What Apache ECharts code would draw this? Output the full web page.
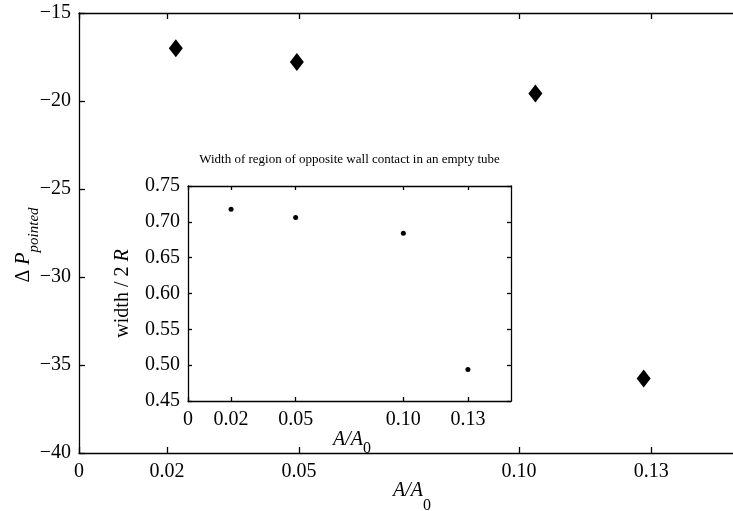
<!DOCTYPE html>
<html>
<head>
<meta charset="utf-8">
<script src="https://cdn.jsdelivr.net/npm/echarts@6/dist/echarts.min.js"></script>
<style>
  html, body { margin: 0; padding: 0; background: #fff; }
  #chart { width: 733px; height: 511px; }
</style>
</head>
<body>
<div id="chart"></div>
<script>
// Pressure drop at the pointed state vs. cross-section ratio
const mainX = [0.022, 0.0495, 0.1037, 0.1283];
const mainY = [-17.0, -17.78, -19.58, -35.77];
const mainXTicks = [0, 0.02, 0.05, 0.10, 0.13];

// Inset: width of opposite-wall contact region in an empty tube
const insetX = [0.02, 0.05, 0.10, 0.13];
const insetY = [0.7175, 0.706, 0.684, 0.494];
const insetXTicks = [0, 0.02, 0.05, 0.10, 0.13];
const insetTitle = 'Width of region of opposite wall contact in an empty tube';

const FONT = 'Liberation Serif';
const BLACK = '#000';

const fmtX = v => (v === 0 ? '0' : v.toFixed(2));
const fmtMinus = v => String(v).replace('-', '\u2212');

const lineStyle = { color: BLACK, width: 1.3 };
const labelStyle = { color: BLACK, fontFamily: FONT, fontSize: 20 };

function xAxisDef(grid, pos, min, max, ticks, tickLen, withLabels, extra) {
  return Object.assign({
    gridIndex: grid, type: 'value', position: pos, min: min, max: max,
    nameMoveOverlap: false,
    axisLine: { show: true, onZero: false, lineStyle: lineStyle },
    axisTick: { show: true, inside: true, length: tickLen, customValues: ticks, lineStyle: lineStyle },
    axisLabel: withLabels
      ? Object.assign({ show: true, margin: 9, customValues: ticks, formatter: fmtX }, labelStyle)
      : { show: false },
    splitLine: { show: false }
  }, extra || {});
}

const subRich = (big, small, drop) => ({
  i: { fontFamily: FONT, fontStyle: 'italic', fontSize: big, color: BLACK, verticalAlign: 'top', lineHeight: big + 2 },
  s: { fontFamily: FONT, fontSize: small, color: BLACK, verticalAlign: 'bottom', lineHeight: big + 2 + drop }
});

const option = {
  animation: false,
  backgroundColor: '#fff',
  grid: [
    { left: 79, top: 13, right: 0, bottom: 58, show: false, containLabel: false, outerBoundsMode: 'none' },
    { left: 188, top: 186, right: 222, bottom: 110, show: true, backgroundColor: '#fff', borderWidth: 0, z: 5,
      containLabel: false, outerBoundsMode: 'none' }
  ],
  xAxis: [
    xAxisDef(0, 'bottom', 0, 0.1486, mainXTicks, 6, true, {
      name: '{i|A/A}{s|0}', nameLocation: 'middle', nameGap: 28,
      nameTextStyle: { padding: [0, 0, 0, 12], rich: subRich(20, 16, 11) }
    }),
    xAxisDef(0, 'top', 0, 0.1486, mainXTicks, 6, false),
    xAxisDef(1, 'bottom', 0, 0.15, insetXTicks, 4, true, {
      z: 6,
      name: '{i|A/A}{s|0}', nameLocation: 'middle', nameGap: 29,
      nameTextStyle: { padding: [0, 0, 0, 5], rich: subRich(20, 16, 5) }
    }),
    xAxisDef(1, 'top', 0, 0.15, insetXTicks, 4, false, { z: 6 })
  ],
  yAxis: [
    {
      gridIndex: 0, type: 'value', position: 'left', min: -40, max: -15, interval: 5,
      nameMoveOverlap: false,
      axisLine: { show: true, onZero: false, lineStyle: lineStyle },
      axisTick: { show: true, inside: true, length: 6, lineStyle: lineStyle },
      axisLabel: Object.assign({ margin: 8, formatter: fmtMinus }, labelStyle),
      splitLine: { show: false },
      name: '{n|\u0394 }{i|P}{s|pointed}', nameLocation: 'middle', nameRotate: 90, nameGap: 37,
      nameTextStyle: {
        padding: [0, 24, 0, 0],
        rich: {
          n: { fontFamily: FONT, fontSize: 20, color: BLACK, verticalAlign: 'top', lineHeight: 22 },
          i: { fontFamily: FONT, fontStyle: 'italic', fontSize: 20, color: BLACK, verticalAlign: 'top', lineHeight: 22 },
          s: { fontFamily: FONT, fontStyle: 'italic', fontSize: 15, color: BLACK, verticalAlign: 'bottom', lineHeight: 28 }
        }
      }
    },
    {
      gridIndex: 1, type: 'value', position: 'left', min: 0.45, max: 0.75, interval: 0.05, z: 6,
      nameMoveOverlap: false,
      axisLine: { show: true, onZero: false, lineStyle: lineStyle },
      axisTick: { show: true, inside: true, length: 4, lineStyle: lineStyle },
      axisLabel: Object.assign({ margin: 8, formatter: v => v.toFixed(2) }, labelStyle),
      splitLine: { show: false },
      name: '{n|width / 2 }{i|R}', nameLocation: 'middle', nameRotate: 90, nameGap: 55,
      nameTextStyle: {
        rich: {
          n: { fontFamily: FONT, fontSize: 20, color: BLACK },
          i: { fontFamily: FONT, fontStyle: 'italic', fontSize: 20, color: BLACK }
        }
      }
    },
    {
      gridIndex: 1, type: 'value', position: 'right', min: 0.45, max: 0.75, interval: 0.05, z: 6,
      axisLine: { show: true, onZero: false, lineStyle: lineStyle },
      axisTick: { show: true, inside: true, length: 4, lineStyle: lineStyle },
      axisLabel: { show: false },
      splitLine: { show: false }
    }
  ],
  graphic: [
    {
      type: 'text', x: 349.5, y: 160, z: 10,
      style: { text: insetTitle, fontFamily: FONT, fontSize: 13, fill: BLACK, align: 'center', verticalAlign: 'middle' }
    }
  ],
  series: [
    {
      type: 'scatter', xAxisIndex: 0, yAxisIndex: 0,
      symbol: 'diamond', symbolSize: [14, 18],
      itemStyle: { color: BLACK, opacity: 1 },
      data: mainX.map((x, i) => [x, mainY[i]])
    },
    {
      type: 'scatter', xAxisIndex: 2, yAxisIndex: 1, z: 10,
      symbol: 'circle', symbolSize: 5,
      itemStyle: { color: BLACK, opacity: 1 },
      data: insetX.map((x, i) => [x, insetY[i]])
    }
  ]
};

const chart = echarts.init(document.getElementById('chart'), null, { renderer: 'canvas' });
chart.setOption(option);
</script>
</body>
</html>
